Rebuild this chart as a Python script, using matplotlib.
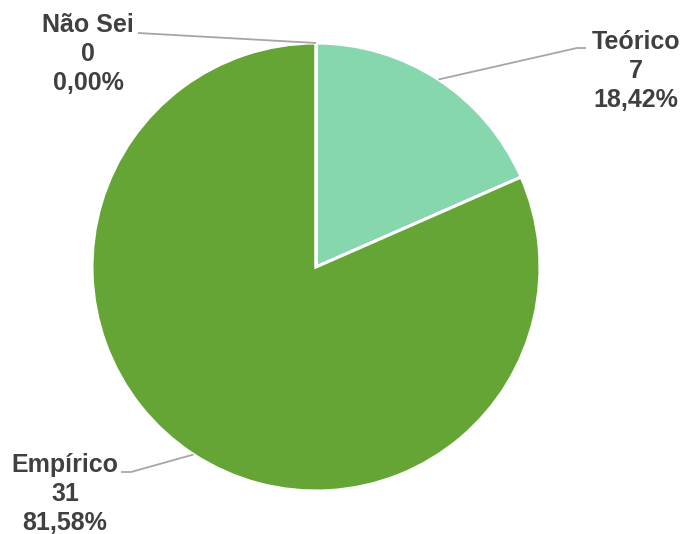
import matplotlib.pyplot as plt
import numpy as np

# ---- data ----
categories = ["Teórico", "Empírico", "Não Sei"]
counts = [7, 31, 0]
percents = ["18,42%", "81,58%", "0,00%"]
colors = ["#86D6AE", "#64A536", "#A5A5A5"]

# label anchor (text centre x, middle line y) and leader path ends, in pixel units
label_pos = {"Teórico": (636, 71), "Empírico": (65, 494), "Não Sei": (88, 54)}
leader_tail = {"Teórico": [(577, 48), (586, 48)],
               "Empírico": [(131, 472), (121, 472)],
               "Não Sei": [(138, 33)]}

W, H = 685, 534
CX, CY, R = 316, 267, 224

plt.rcParams['font.family'] = ['Liberation Sans', 'DejaVu Sans']

fig = plt.figure(figsize=(W / 100, H / 100), dpi=100)
ax = fig.add_axes([0, 0, 1, 1])

wedges, _ = ax.pie(counts, colors=colors, startangle=90, counterclock=False,
                   radius=R, center=(CX, H - CY),
                   wedgeprops=dict(edgecolor='white', linewidth=2.2))

ax.set_xlim(0, W)
ax.set_ylim(0, H)
ax.set_aspect('equal')
ax.axis('off')

for w, name, n, pct in zip(wedges, categories, counts, percents):
    mid = np.deg2rad((w.theta1 + w.theta2) / 2)
    px, py = CX + R * np.cos(mid), (H - CY) + R * np.sin(mid)
    xs = [px] + [p[0] for p in leader_tail[name]]
    ys = [py] + [H - p[1] for p in leader_tail[name]]
    ax.plot(xs, ys, color='#A6A6A6', lw=1.3, solid_capstyle='butt')
    tx, ty = label_pos[name]
    ax.text(tx, H - ty, f"{name}\n{n}\n{pct}", ha='center', va='center',
            fontsize=18, fontweight='bold', color='#404040', linespacing=1.24)

fig.savefig('out.png', dpi=100)
